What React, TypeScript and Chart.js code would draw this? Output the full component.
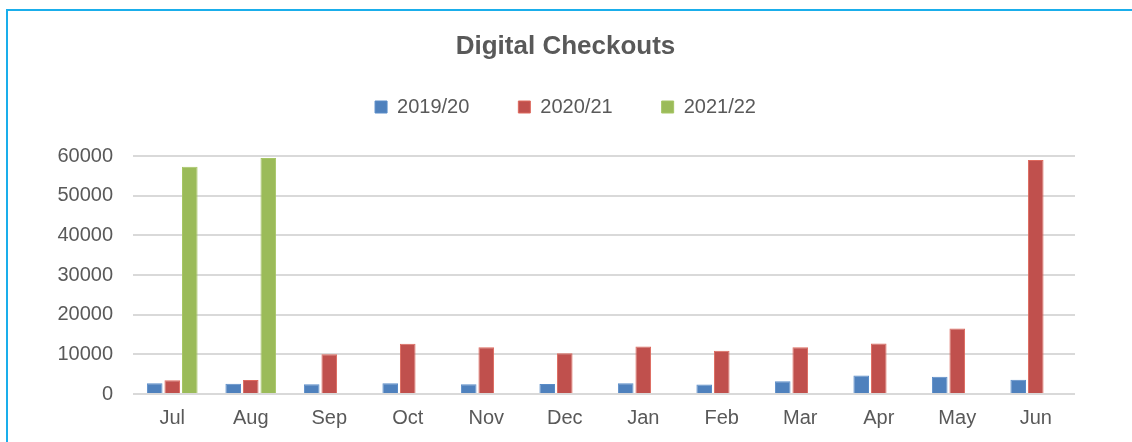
import React, { useEffect, useRef } from "react";
import { Chart, registerables } from "chart.js";

Chart.register(...registerables);

const months = ["Jul", "Aug", "Sep", "Oct", "Nov", "Dec", "Jan", "Feb", "Mar", "Apr", "May", "Jun"];
const seriesNames = ["2019/20", "2020/21", "2021/22"];
const values2019 = [2680, 2600, 2430, 2680, 2430, 2550, 2700, 2400, 3230, 4650, 4370, 3620];
const values2020 = [3440, 3540, 10000, 12640, 11800, 10300, 12000, 10900, 11800, 12720, 16500, 59000];
const values2021 = [57300, 59500, null, null, null, null, null, null, null, null, null, null];
const yTicks = [0, 10000, 20000, 30000, 40000, 50000, 60000];

const FONT = "'Liberation Sans', Arial, sans-serif";
const TEXT = "#595959";

export default function App() {
  const ref = useRef<HTMLCanvasElement | null>(null);

  useEffect(() => {
    if (!ref.current) return;
    Chart.defaults.font.family = FONT;
    const chart = new Chart(ref.current, {
      type: "bar",
      data: {
        labels: months,
        datasets: [
          {
            label: seriesNames[0],
            data: values2019,
            backgroundColor: "#4F81BD",
            borderColor: "#5A8CC8",
            borderWidth: 1,
          },
          {
            label: seriesNames[1],
            data: values2020,
            backgroundColor: "#C0504D",
            borderColor: "#DE6A5E",
            borderWidth: 1,
          },
          {
            label: seriesNames[2],
            data: values2021,
            backgroundColor: "#9BBB59",
            borderColor: "#A6C565",
            borderWidth: 1,
          },
        ],
      },
      options: {
        responsive: false,
        animation: false,
        layout: { padding: { left: 56, right: 57, top: 0, bottom: 0 } },
        datasets: {
          bar: { categoryPercentage: 0.67, barPercentage: 0.89 },
        },
        plugins: {
          title: {
            display: true,
            text: "Digital Checkouts",
            color: TEXT,
            font: { size: 26, weight: "bold", family: FONT },
            padding: { top: 31.5, bottom: -14.7 },
          },
          subtitle: {
            display: true,
            text: "",
            weight: 500,
            position: "top",
            font: { size: 10, lineHeight: 1 },
            padding: { top: 19, bottom: 0 },
          } as any,
          legend: {
            display: true,
            position: "top",
            labels: {
              boxWidth: 12,
              boxHeight: 12,
              padding: 49,
              color: TEXT,
              font: { size: 20, family: FONT },
            },
          },
          tooltip: { enabled: false },
        },
        scales: {
          x: {
            grid: { display: false, drawTicks: false },
            border: { display: false },
            ticks: {
              color: TEXT,
              font: { size: 20, family: FONT },
              padding: 12,
              maxRotation: 0,
            },
          },
          y: {
            min: 0,
            max: 60000,
            afterBuildTicks: (axis: any) => {
              axis.ticks = yTicks.map((v) => ({ value: v }));
            },
            afterFit: (axis: any) => {
              axis.width = 77;
            },
            grid: { color: "#D9D9D9", lineWidth: 2, drawTicks: false },
            border: { display: false },
            ticks: {
              color: TEXT,
              font: { size: 20, family: FONT },
              padding: 20,
              callback: (v: any) => String(v),
            },
          },
        },
      },
    });
    return () => chart.destroy();
  }, []);

  return (
    <div
      style={{
        position: "fixed",
        left: 0,
        top: 0,
        width: 1132,
        height: 442,
        overflow: "hidden",
        background: "#ffffff",
      }}
    >
      <div
        style={{
          position: "absolute",
          left: 6,
          top: 9,
          width: 1160,
          height: 470,
          borderLeft: "2px solid #1AAEEB",
          borderTop: "2px solid #1AAEEB",
        }}
      />
      <canvas
        ref={ref}
        width={1132}
        height={442}
        style={{ position: "absolute", left: 0, top: 0, width: 1132, height: 442 }}
      />
    </div>
  );
}
